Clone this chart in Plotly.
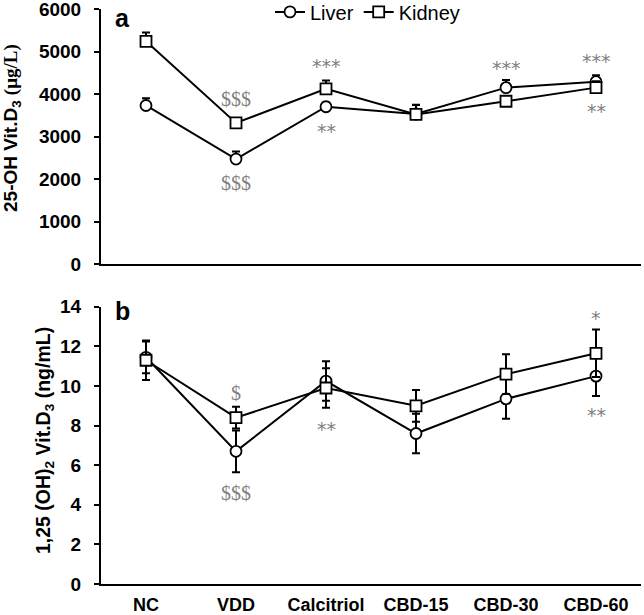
import plotly.graph_objects as go

categories = ["NC", "VDD", "Calcitriol", "CBD-15", "CBD-30", "CBD-60"]

# Panel a: 25-OH Vit.D3 (ug/L)
liver_a = [3730, 2470, 3700, 3530, 4150, 4290]
liver_a_err = [170, 180, 100, 210, 180, 150]
kidney_a = [5240, 3320, 4120, 3520, 3830, 4150]
kidney_a_err = [210, 100, 200, 230, 100, 150]

# Panel b: 1,25 (OH)2 Vit.D3 (ng/mL)
liver_b = [11.45, 6.7, 10.25, 7.6, 9.35, 10.5]
liver_b_err = [0.8, 1.05, 1.0, 1.0, 1.0, 1.0]
kidney_b = [11.3, 8.4, 9.9, 9.0, 10.6, 11.65]
kidney_b_err = [1.0, 0.55, 1.0, 0.8, 1.0, 1.2]

# significance labels: (category, y value, text)
sig_a_dollar = [("VDD", 3880, "$$$"), ("VDD", 1900, "$$$")]
sig_a_star = [("Calcitriol", 4650, "***"), ("Calcitriol", 3130, "**"),
              ("CBD-30", 4610, "***"), ("CBD-60", 4780, "***"), ("CBD-60", 3610, "**")]
sig_b_dollar = [("VDD", 9.63, "$"), ("VDD", 4.61, "$$$")]
sig_b_star = [("Calcitriol", 7.85, "**"), ("CBD-60", 13.45, "*"), ("CBD-60", 8.55, "**")]

SANS = "Liberation Sans, Arial, sans-serif"
SERIF = "Liberation Serif, Times New Roman, serif"
GRAY = "#808080"

fig = go.Figure()

def add_series(x, y, err, name, symbol, xa, ya, showlegend, plus_only):
    if plus_only:
        ebar = dict(type="data", array=err, arrayminus=[0] * len(err), symmetric=False,
                    color="black", thickness=2, width=4)
    else:
        ebar = dict(type="data", array=err, symmetric=True, color="black", thickness=2, width=4)
    fig.add_trace(go.Scatter(
        x=x, y=y, name=name, mode="lines+markers", xaxis=xa, yaxis=ya,
        showlegend=showlegend, error_y=ebar,
        line=dict(color="black", width=2),
        marker=dict(symbol=symbol, size=11, color="white", line=dict(color="black", width=1.8)),
    ))

add_series(categories, liver_a, liver_a_err, "Liver", "circle", "x", "y", True, True)
add_series(categories, kidney_a, kidney_a_err, "Kidney", "square", "x", "y", True, True)
add_series(categories, liver_b, liver_b_err, "Liver", "circle", "x2", "y2", False, False)
add_series(categories, kidney_b, kidney_b_err, "Kidney", "square", "x2", "y2", False, False)

annotations = []
for cat, yv, txt in sig_a_dollar:
    annotations.append(dict(x=cat, y=yv, xref="x", yref="y", text=txt, showarrow=False,
                            font=dict(family=SERIF, size=20, color=GRAY)))
for cat, yv, txt in sig_a_star:
    annotations.append(dict(x=cat, y=yv, xref="x", yref="y", text=txt, showarrow=False,
                            font=dict(family="DejaVu Sans", size=19, color=GRAY)))
for cat, yv, txt in sig_b_dollar:
    annotations.append(dict(x=cat, y=yv, xref="x2", yref="y2", text=txt, showarrow=False,
                            font=dict(family=SERIF, size=20, color=GRAY)))
for cat, yv, txt in sig_b_star:
    annotations.append(dict(x=cat, y=yv, xref="x2", yref="y2", text=txt, showarrow=False,
                            font=dict(family="DejaVu Sans", size=19, color=GRAY)))

# panel letters
annotations.append(dict(x=0.022, y=0.985, xref="paper", yref="paper", text="<b>a</b>",
                        showarrow=False, xanchor="left", yanchor="middle",
                        font=dict(family=SANS, size=25, color="black")))
annotations.append(dict(x=0.022, y=0.475, xref="paper", yref="paper", text="<b>b</b>",
                        showarrow=False, xanchor="left", yanchor="middle",
                        font=dict(family=SANS, size=25, color="black")))

# y-axis titles
annotations.append(dict(
    x=(12 - 101) / 540, y=(584 - 128) / 575, xref="paper", yref="paper", textangle=-90,
    showarrow=False, xanchor="center", yanchor="middle",
    text="<b>25-OH Vit.D<sub>3</sub> <span style='font-family:Liberation Serif'>(μg/L)</span></b>",
    font=dict(family=SANS, size=19, color="black")))
annotations.append(dict(
    x=(44 - 101) / 540, y=(584 - 441) / 575, xref="paper", yref="paper", textangle=-90,
    showarrow=False, xanchor="center", yanchor="middle",
    text="<b>1,25 (OH)<sub>2</sub> Vit.D<sub>3</sub> (ng/mL)</b>",
    font=dict(family=SANS, size=19.5, color="black")))

yaxis_common = dict(showline=True, linecolor="black", linewidth=2, ticks="outside",
                    ticklen=5, tickwidth=2, tickcolor="black", showgrid=False, zeroline=False,
                    tickfont=dict(family=SANS, size=19, color="black"), ticklabelstandoff=9,
                    automargin=False, ticklabeloverflow="allow")
xaxis_common = dict(showline=True, linecolor="black", linewidth=2, ticks="", showgrid=False,
                    zeroline=False, range=[-0.5, 5.5], type="category", automargin=False)

fig.update_layout(
    width=644, height=615,
    margin=dict(l=101, r=3, t=9, b=31, autoexpand=False),
    paper_bgcolor="white", plot_bgcolor="white",
    font=dict(family=SANS, color="black"),
    xaxis=dict(domain=[0, 1], anchor="y", showticklabels=False, **xaxis_common),
    yaxis=dict(domain=[(584 - 264) / 575, 1.0], anchor="x", range=[0, 6000],
               tickvals=[0, 1000, 2000, 3000, 4000, 5000, 6000],
               ticktext=["<b>%d</b>" % v for v in [0, 1000, 2000, 3000, 4000, 5000, 6000]],
               **yaxis_common),
    xaxis2=dict(domain=[0, 1], anchor="y2", showticklabels=True,
                tickfont=dict(family=SANS, size=18, color="black"), ticklabelstandoff=3,
                ticklabeloverflow="allow",
                tickvals=categories, ticktext=["<b>%s</b>" % c for c in categories],
                **xaxis_common),
    yaxis2=dict(domain=[0, (584 - 306.8) / 575], anchor="x2", range=[0, 14],
                tickvals=[0, 2, 4, 6, 8, 10, 12, 14],
                ticktext=["<b>%d</b>" % v for v in [0, 2, 4, 6, 8, 10, 12, 14]],
                **yaxis_common),
    legend=dict(orientation="h", x=(270 - 101) / 540, y=0.995, xanchor="left", yanchor="middle",
                bgcolor="rgba(0,0,0,0)", font=dict(family=SANS, size=20, color="black"),
                itemwidth=30, tracegroupgap=0),
    annotations=annotations,
    showlegend=True,
)

fig.write_html("out.html", config={"displayModeBar": False},
               post_script="document.body.style.margin='0';document.body.style.overflow='hidden';")
